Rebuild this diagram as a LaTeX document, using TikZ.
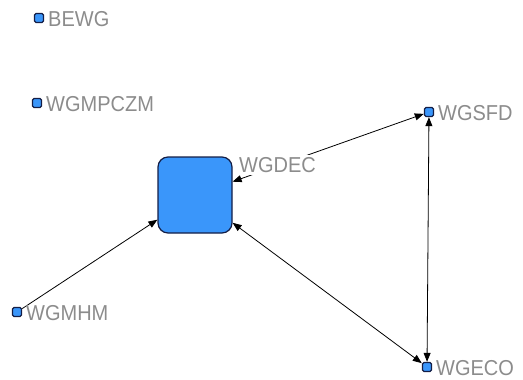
\documentclass[tikz,border=0pt]{standalone}
\usepackage{fontspec}
\setmainfont{Liberation Sans}
\usetikzlibrary{arrows.meta}
\definecolor{nodeblue}{RGB}{58,150,250}
\definecolor{navy}{RGB}{20,30,70}
\definecolor{labgrey}{RGB}{140,140,140}
\tikzset{
  small/.style={draw=navy, line width=1.4pt, fill=nodeblue, rounded corners=1.5pt, minimum size=9pt, inner sep=0pt},
  big/.style={draw=navy, line width=1.2pt, fill=nodeblue, rounded corners=10pt, minimum width=74pt, minimum height=76pt, inner sep=0pt},
  lab/.style={text=labgrey, font=\fontsize{20}{21}\selectfont, inner sep=1pt, anchor=west, yscale=1.08},
  edge/.style={line width=0.8pt, black},
  tip/.style={-{Triangle[length=9pt,width=7pt]}},
  tips/.style={{Triangle[length=9pt,width=7pt]}-{Triangle[length=9pt,width=7pt]}}
}
\begin{document}
\begin{tikzpicture}[x=1pt,y=-1pt]
\useasboundingbox (0,0) rectangle (523,380);
\node[small] (bewg) at (39,18) {};
\node[small] (mpczm) at (37,103) {};
\node[small] (sfd) at (429,112) {};
\node[small] (eco) at (427,367) {};
\node[small] (mhm) at (17,312) {};
\node[big] (dec) at (195,195) {};
\draw[edge,tips] (dec) -- (sfd);
\draw[edge,tips] (dec) -- (eco);
\draw[edge,tips] (sfd) -- (eco);
\draw[edge,tip] (mhm) -- (dec);
\node[lab] (lbewg) at (47,19) {BEWG};
\node[lab] (lmpczm) at (45,104) {WGMPCZM};
\node[lab] (lsfd) at (437,113) {WGSFD};
\node[lab] (leco) at (435,368) {WGECO};
\node[lab] (lmhm) at (25,313) {WGMHM};
\node[lab, fill=white, inner sep=2pt] (ldec) at (237,165) {WGDEC};
\end{tikzpicture}
\end{document}
